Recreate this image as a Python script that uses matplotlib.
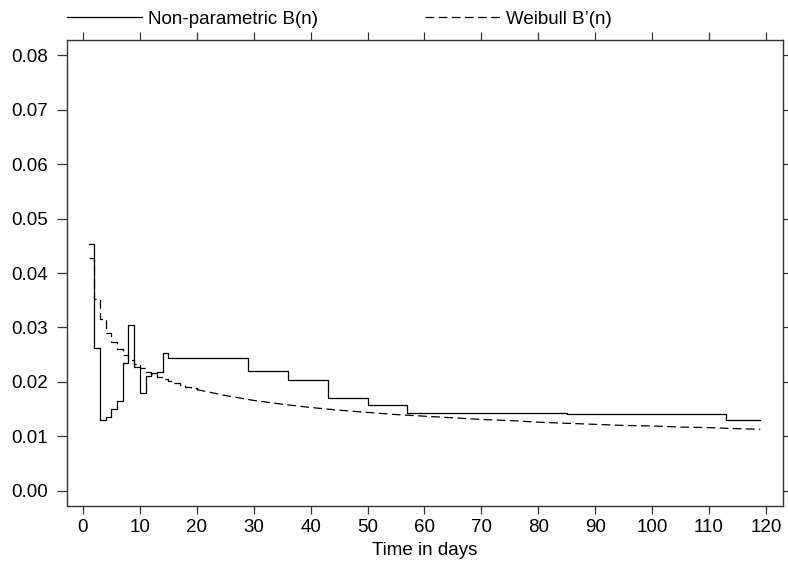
import numpy as np
import matplotlib
matplotlib.use('Agg')
import matplotlib.pyplot as plt

plt.rcParams['font.family'] = ['Liberation Sans', 'DejaVu Sans']

# non-parametric B(n): step changes (day, value), held until the next day
np_days = [1, 2, 3, 4, 5, 6, 7, 8, 9, 10, 11, 12, 13, 14, 15, 29, 36, 43, 50, 57, 85, 113, 119]
np_vals = [0.0454, 0.0262, 0.0130, 0.0135, 0.0151, 0.0165, 0.0234, 0.0304, 0.0228, 0.0180,
           0.0211, 0.0216, 0.0218, 0.0253, 0.0243, 0.0220, 0.0203, 0.0171, 0.0158, 0.0143,
           0.0141, 0.0130, 0.0130]

# Weibull B'(n): daily steps early on, then a smooth tail
wb_step_days = list(range(1, 21))
wb_step_vals = [0.0427, 0.0352, 0.0315, 0.0290, 0.0273, 0.0260, 0.0249, 0.0240, 0.0232, 0.0225,
                0.0219, 0.0214, 0.0209, 0.0205, 0.0201, 0.0198, 0.0194, 0.0191, 0.0188, 0.0186]
wb_days = [20, 25, 30, 35, 40, 45, 50, 55, 60, 65, 70, 75, 80, 85, 90, 95, 100, 105, 110, 115, 119]
wb_vals = [0.0186, 0.0175, 0.0166, 0.0159, 0.0153, 0.0148, 0.0144, 0.0140, 0.0137, 0.0134,
           0.0131, 0.0129, 0.0126, 0.0124, 0.0122, 0.0120, 0.0119, 0.0117, 0.0116, 0.0114, 0.0113]

x_ticks = np.arange(0, 121, 10)
y_ticks = np.arange(0, 0.081, 0.01)

fs = 13.5

fig = plt.figure(figsize=(7.88, 5.65), dpi=100)
ax = fig.add_axes([0.085, 0.1044, 0.9087, 0.8248])

l_np, = ax.plot(np_days, np_vals, color='black', lw=0.9, drawstyle='steps-post')
l_wb, = ax.plot(wb_step_days, wb_step_vals, color='black', lw=0.9, ls=(0, (7, 3.5)),
                drawstyle='steps-post')
ax.plot(wb_days, wb_vals, color='black', lw=0.9, ls=(0, (7, 3.5)))

ax.set_xlim(-2.8, 123)
ax.set_ylim(-0.0028, 0.0828)
ax.set_xticks(x_ticks)
ax.set_yticks(y_ticks)
ax.set_yticklabels(['%.2f' % v for v in y_ticks])

for s in ax.spines.values():
    s.set_color('#333333')
    s.set_linewidth(1.0)
ax.tick_params(axis='x', which='both', direction='out', length=6, width=0.9,
               color='#333333', top=True, labeltop=False, pad=3, labelsize=fs)
ax.tick_params(axis='y', which='both', direction='out', length=7, width=0.9,
               color='#333333', right=True, labelright=False, pad=6.5, labelsize=fs)
ax.set_xlabel('Time in days', fontsize=fs, labelpad=5)

ax.legend(handles=[l_np, l_wb], labels=['Non-parametric B(n)', 'Weibull B’(n)'],
          loc='lower left', bbox_to_anchor=(-0.010, 1.01), ncol=2, frameon=False,
          handlelength=4.0, handletextpad=0.32, columnspacing=5.7, fontsize=fs,
          borderpad=0, borderaxespad=0.4)

fig.savefig('out.png', dpi=100)
